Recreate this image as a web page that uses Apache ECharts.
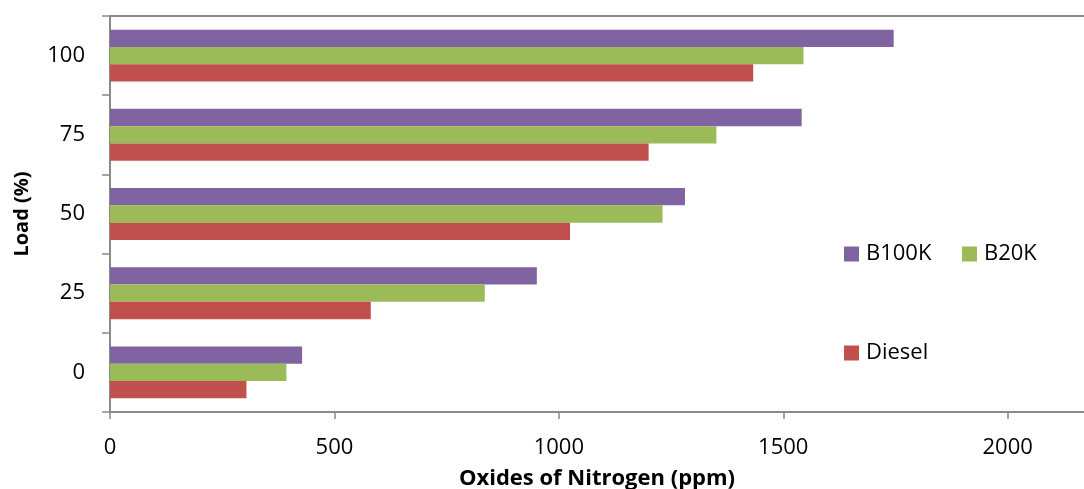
<!DOCTYPE html>
<html>
<head>
<meta charset="utf-8">
<title>Oxides of Nitrogen by Load</title>
<script src="https://cdn.jsdelivr.net/npm/echarts@6/dist/echarts.min.js"></script>
<style>
  html, body { margin: 0; padding: 0; background: #ffffff; }
  #chart { width: 1084px; height: 489px; }
</style>
</head>
<body>
<div id="chart"></div>
<script>
// Engine load levels (%), bottom to top
const loads = ['0', '25', '50', '75', '100'];

// NOx emissions (ppm) per fuel at each load
const diesel = [304, 581, 1025, 1200, 1433];
const b20k   = [393, 835, 1231, 1351, 1545];
const b100k  = [428, 951, 1281, 1541, 1746];

// X axis tick values
const xTicks = [0, 500, 1000, 1500, 2000];

const FONT = '"Open Sans", "Noto Sans", sans-serif';
const AXIS_GREY = '#8a8a8a';

const colors = { Diesel: '#C0504D', B20K: '#9BBB59', B100K: '#8064A2' };

function barSeries(name, values) {
  return {
    name: name,
    type: 'bar',
    data: values,
    barWidth: 17.3,
    barGap: '0%',
    itemStyle: { color: colors[name] },
    emphasis: { disabled: true }
  };
}

function legendFor(name, left, top) {
  return {
    data: [name],
    left: left,
    top: top,
    padding: 0,
    icon: 'rect',
    itemWidth: 15,
    itemHeight: 15,
    selectedMode: false,
    textStyle: { fontFamily: FONT, fontSize: 22, color: '#000000', padding: [0, 0, 0, 2] }
  };
}

const chart = echarts.init(document.getElementById('chart'), null, { renderer: 'canvas' });

chart.setOption({
  animation: false,
  backgroundColor: '#ffffff',
  grid: { left: 110, right: 0, top: 16, height: 396, containLabel: false, outerBoundsMode: 'none' },
  legend: [
    legendFor('B100K', 844, 243),
    legendFor('B20K', 962, 243),
    legendFor('Diesel', 844, 342)
  ],
  xAxis: [
    {
      type: 'value',
      min: 0,
      max: 2170,
      interval: 500,
      position: 'bottom',
      splitLine: { show: false },
      axisLine: { show: true, lineStyle: { color: AXIS_GREY, width: 2 } },
      axisTick: { show: true, length: 7, lineStyle: { color: AXIS_GREY, width: 1.5 } },
      axisLabel: {
        margin: 25,
        showMaxLabel: false,
        fontFamily: FONT,
        fontSize: 22,
        color: '#000000',
        formatter: function (v) { return xTicks.indexOf(v) >= 0 ? String(v) : ''; }
      },
      name: 'Oxides of Nitrogen (ppm)',
      nameLocation: 'middle',
      nameGap: 56,
      nameTextStyle: { fontFamily: FONT, fontSize: 22, fontWeight: 'bold', color: '#000000' }
    },
    {
      type: 'value',
      min: 0,
      max: 2170,
      position: 'top',
      splitLine: { show: false },
      axisLine: { show: true, lineStyle: { color: AXIS_GREY, width: 2 } },
      axisTick: { show: false },
      axisLabel: { show: false }
    }
  ],
  yAxis: {
    type: 'category',
    data: loads,
    axisLine: { show: true, lineStyle: { color: AXIS_GREY, width: 2 } },
    axisTick: { show: true, length: 8, alignWithLabel: false, lineStyle: { color: AXIS_GREY, width: 1.5 } },
    axisLabel: { margin: 25, fontFamily: FONT, fontSize: 22, color: '#000000' },
    name: 'Load (%)',
    nameLocation: 'middle',
    nameGap: 78,
    nameRotate: 90,
    nameTextStyle: { fontFamily: FONT, fontSize: 20, fontWeight: 'bold', color: '#000000' }
  },
  series: [
    barSeries('B100K', b100k),
    barSeries('B20K', b20k),
    barSeries('Diesel', diesel)
  ]
});
</script>
</body>
</html>
